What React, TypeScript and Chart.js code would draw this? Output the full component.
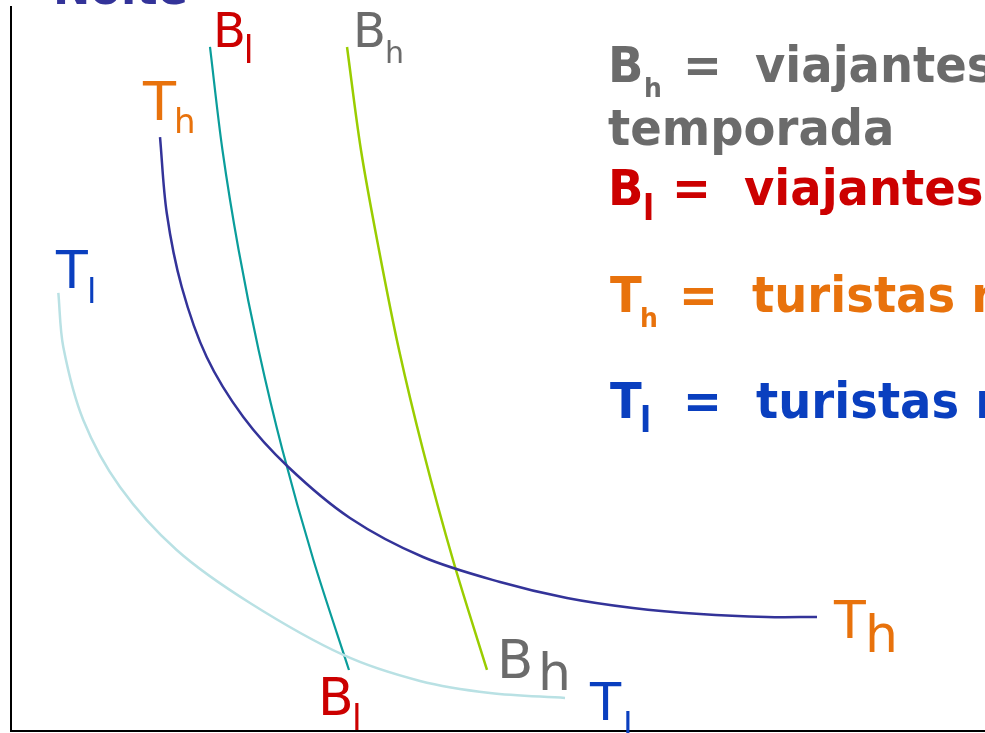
import React, { useEffect, useRef } from "react";
import { Chart, registerables } from "chart.js";

Chart.register(...registerables);

// Quantity (x) and price (y) in arbitrary units 0..100
const tlX = [4.86, 5.37, 7.42, 11.19, 17.01, 24.54, 34.12, 41.99, 49.18, 56.88];
const tlY = [60.5, 53.04, 42.96, 33.7, 25.0, 17.68, 10.5, 6.91, 5.25, 4.56];

const thX = [15.3, 15.99, 17.53, 20.09, 23.85, 28.47, 34.8, 42.3, 50.21, 57.08, 63.86, 70.74, 77.62, 82.75];
const thY = [82.04, 71.55, 61.33, 51.66, 43.37, 36.46, 29.42, 24.03, 20.58, 18.37, 16.99, 16.16, 15.75, 15.75];

const blX = [20.43, 21.71, 23.37, 25.42, 27.87, 31.05, 34.7];
const blY = [94.48, 80.25, 66.44, 52.62, 38.81, 23.62, 8.43];

const bhX = [34.5, 35.93, 37.78, 39.84, 42.3, 45.38, 48.87];
const bhY = [94.48, 80.25, 66.44, 52.62, 38.81, 23.62, 8.43];

const pts = (xs: number[], ys: number[]) => xs.map((x, i) => ({ x, y: ys[i] }));

const FONT = '"DejaVu Sans", Verdana, sans-serif';

function put(
  ctx: CanvasRenderingContext2D,
  text: string,
  x: number,
  y: number,
  size: number,
  bold: boolean,
  color: string,
  sx = 1
) {
  ctx.save();
  ctx.translate(x, y);
  ctx.scale(sx, 1);
  ctx.font = `${bold ? "bold " : ""}${size}px ${FONT}`;
  ctx.fillStyle = color;
  ctx.textAlign = "left";
  ctx.textBaseline = "alphabetic";
  ctx.fillText(text, 0, 0);
  ctx.restore();
}

const RED = "#cc0000";
const GRAY = "#6b6b6b";
const ORANGE = "#e8720c";
const BLUE = "#0a3fbf";

const labelsPlugin = {
  id: "labels",
  afterDraw(chart: Chart) {
    const ctx = chart.ctx;
    // title (cut off at the top)
    put(ctx, "Noite", 53, 4, 48, true, "#333399", 0.93);

    // curve labels near the top
    put(ctx, "B", 213, 47, 48, false, RED);
    put(ctx, "l", 243.5, 63, 37, false, RED);
    put(ctx, "B", 353, 47, 48, false, GRAY);
    put(ctx, "h", 385, 63, 30, false, GRAY);
    put(ctx, "T", 143, 120, 54, false, ORANGE);
    put(ctx, "h", 174, 133, 34, false, ORANGE);
    put(ctx, "T", 56, 288, 52, false, BLUE);
    put(ctx, "l", 87, 303, 34, false, BLUE);

    // curve labels near the bottom
    put(ctx, "B", 318, 715, 52, false, RED);
    put(ctx, "l", 352, 730, 35, false, RED);
    put(ctx, "B", 497, 678, 53, false, GRAY);
    put(ctx, "h", 538, 690, 52, false, GRAY);
    put(ctx, "T", 834, 638, 52, false, ORANGE);
    put(ctx, "h", 865, 652, 52, false, ORANGE);
    put(ctx, "T", 590, 720, 51, false, BLUE);
    put(ctx, "l", 623, 738, 35, false, BLUE);

    // legend text
    const s = 0.93;
    put(ctx, "B", 608, 82, 50, true, GRAY, s);
    put(ctx, "h", 644, 97, 27, true, GRAY, s);
    put(ctx, "=", 683, 82, 50, true, GRAY, s);
    put(ctx, "viajantes de negócios na alta", 755, 82, 50, true, GRAY, s);
    put(ctx, "temporada", 608, 145, 50, true, GRAY, s);

    put(ctx, "B", 608, 205, 50, true, RED, s);
    put(ctx, "l", 643, 220, 35, true, RED, s);
    put(ctx, "=", 672, 205, 50, true, RED, s);
    put(ctx, "viajantes de negócios na baixa temporada", 744, 205, 50, true, RED, s);

    put(ctx, "T", 610, 312, 50, true, ORANGE, s);
    put(ctx, "h", 640, 327, 27, true, ORANGE, s);
    put(ctx, "=", 679, 312, 50, true, ORANGE, s);
    put(ctx, "turistas na alta temporada", 752, 312, 50, true, ORANGE, s);

    put(ctx, "T", 610, 418, 50, true, BLUE, s);
    put(ctx, "l", 640, 432, 35, true, BLUE, s);
    put(ctx, "=", 683, 418, 50, true, BLUE, s);
    put(ctx, "turistas na baixa temporada", 756, 418, 50, true, BLUE, s);
  },
};

export default function App() {
  const ref = useRef<HTMLCanvasElement | null>(null);

  useEffect(() => {
    if (!ref.current) return;
    const line = (data: { x: number; y: number }[], color: string, width: number) => ({
      data,
      showLine: true,
      borderColor: color,
      backgroundColor: color,
      borderWidth: width,
      pointRadius: 0,
      tension: 0.33,
      fill: false,
    });
    const chart = new Chart(ref.current, {
      type: "scatter",
      data: {
        datasets: [
          line(pts(tlX, tlY), "#b9e1e4", 2.5),
          line(pts(thX, thY), "#333399", 2.5),
          line(pts(blX, blY), "#0a9d9b", 2.2),
          line(pts(bhX, bhY), "#9acd00", 2.5),
        ],
      },
      options: {
        responsive: false,
        animation: false,
        devicePixelRatio: 1,
        layout: { padding: { left: 11, top: 7, right: 0, bottom: 2 } },
        plugins: { legend: { display: false }, tooltip: { enabled: false }, title: { display: false } },
        scales: {
          x: {
            type: "linear",
            min: 0,
            max: 100,
            grid: { display: false, drawTicks: false },
            ticks: { display: false },
            border: { display: true, color: "#000", width: 2 },
          },
          y: {
            type: "linear",
            min: 0,
            max: 100,
            grid: { display: false, drawTicks: false },
            ticks: { display: false },
            border: { display: true, color: "#000", width: 2 },
          },
        },
      },
      plugins: [labelsPlugin],
    });
    return () => chart.destroy();
  }, []);

  return (
    <div style={{ position: "absolute", left: 0, top: 0, width: 985, height: 733, background: "#fff" }}>
      <canvas ref={ref} width={985} height={733} style={{ display: "block", width: 985, height: 733 }} />
    </div>
  );
}
